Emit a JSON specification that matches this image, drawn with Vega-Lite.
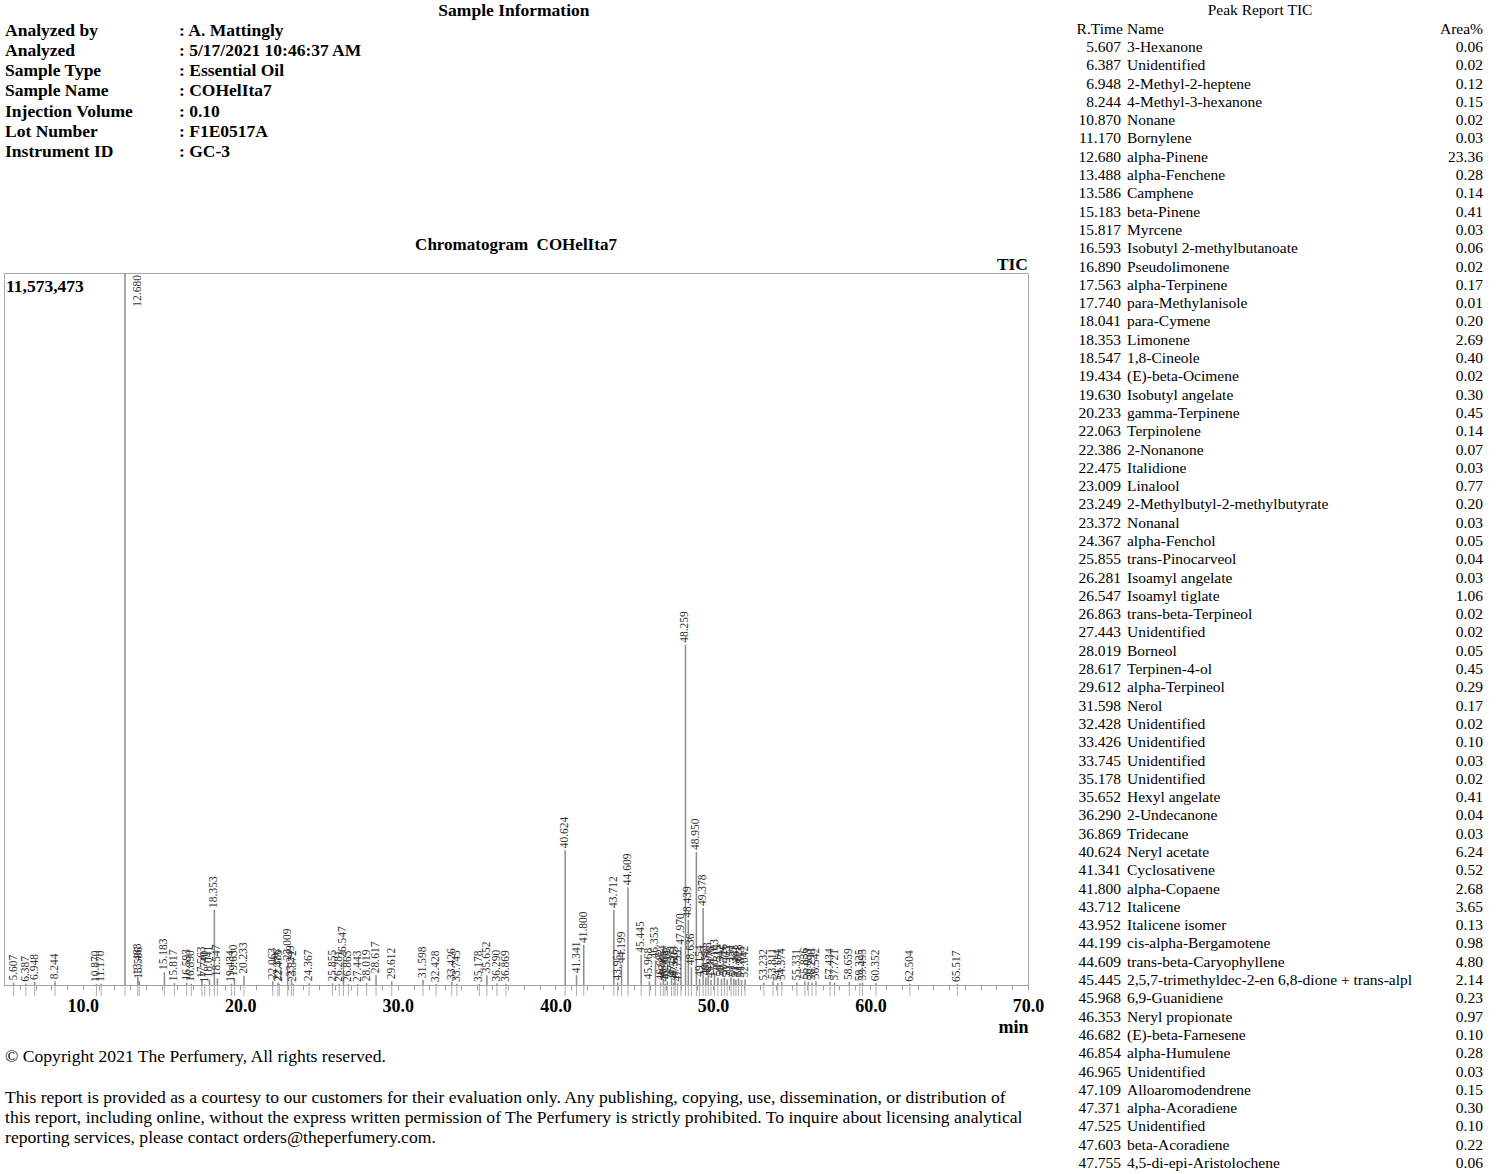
{
  "$schema": "https://vega.github.io/schema/vega-lite/v6.json",
  "padding": {"left": 3, "top": 0, "right": 0, "bottom": 0},
  "background": "white",
  "config": {"font": "Liberation Serif", "view": {"stroke": null}},
  "spacing": 0,
  "datasets": {
    "peaks": [
      {"rt": 5.607, "height": 40000}, {"rt": 6.387, "height": 20000}, {"rt": 6.948, "height": 50000}, {"rt": 8.244, "height": 60000},
      {"rt": 10.870, "height": 15000}, {"rt": 11.170, "height": 20000}, {"rt": 12.680, "height": 11573473}, {"rt": 13.488, "height": 130000},
      {"rt": 13.586, "height": 70000}, {"rt": 15.183, "height": 210000}, {"rt": 15.817, "height": 30000}, {"rt": 16.593, "height": 40000},
      {"rt": 16.890, "height": 20000}, {"rt": 17.563, "height": 80000}, {"rt": 17.740, "height": 10000}, {"rt": 18.041, "height": 90000},
      {"rt": 18.353, "height": 1220000}, {"rt": 18.547, "height": 110000}, {"rt": 19.434, "height": 20000}, {"rt": 19.630, "height": 110000},
      {"rt": 20.233, "height": 150000}, {"rt": 22.063, "height": 60000}, {"rt": 22.386, "height": 40000}, {"rt": 22.475, "height": 20000},
      {"rt": 23.009, "height": 370000}, {"rt": 23.249, "height": 100000}, {"rt": 23.372, "height": 20000}, {"rt": 24.367, "height": 30000},
      {"rt": 25.855, "height": 25000}, {"rt": 26.281, "height": 20000}, {"rt": 26.547, "height": 410000}, {"rt": 26.863, "height": 15000},
      {"rt": 27.443, "height": 15000}, {"rt": 28.019, "height": 30000}, {"rt": 28.617, "height": 160000}, {"rt": 29.612, "height": 60000},
      {"rt": 31.598, "height": 80000}, {"rt": 32.428, "height": 15000}, {"rt": 33.426, "height": 50000}, {"rt": 33.745, "height": 20000},
      {"rt": 35.178, "height": 15000}, {"rt": 35.652, "height": 160000}, {"rt": 36.290, "height": 25000}, {"rt": 36.869, "height": 20000},
      {"rt": 40.624, "height": 2190000}, {"rt": 41.341, "height": 160000}, {"rt": 41.800, "height": 650000}, {"rt": 43.712, "height": 1220000},
      {"rt": 43.952, "height": 40000}, {"rt": 44.199, "height": 325000}, {"rt": 44.609, "height": 1590000}, {"rt": 45.445, "height": 490000},
      {"rt": 45.968, "height": 60000}, {"rt": 46.353, "height": 400000}, {"rt": 46.682, "height": 40000}, {"rt": 46.854, "height": 100000},
      {"rt": 46.965, "height": 20000}, {"rt": 47.109, "height": 60000}, {"rt": 47.371, "height": 110000}, {"rt": 47.525, "height": 40000},
      {"rt": 47.603, "height": 80000}, {"rt": 47.755, "height": 25000}, {"rt": 47.970, "height": 620000}, {"rt": 48.259, "height": 5530000},
      {"rt": 48.439, "height": 1060000}, {"rt": 48.636, "height": 290000}, {"rt": 48.950, "height": 2160000}, {"rt": 49.154, "height": 100000},
      {"rt": 49.378, "height": 1250000}, {"rt": 49.551, "height": 120000}, {"rt": 49.703, "height": 150000}, {"rt": 49.876, "height": 80000},
      {"rt": 50.103, "height": 200000}, {"rt": 50.315, "height": 120000}, {"rt": 50.542, "height": 100000}, {"rt": 50.726, "height": 120000},
      {"rt": 50.903, "height": 90000}, {"rt": 51.151, "height": 120000}, {"rt": 51.327, "height": 100000}, {"rt": 51.461, "height": 90000},
      {"rt": 51.628, "height": 110000}, {"rt": 51.813, "height": 80000}, {"rt": 52.042, "height": 90000}, {"rt": 53.232, "height": 40000},
      {"rt": 53.811, "height": 60000}, {"rt": 54.114, "height": 30000}, {"rt": 54.374, "height": 50000}, {"rt": 55.331, "height": 40000},
      {"rt": 55.836, "height": 60000}, {"rt": 56.053, "height": 50000}, {"rt": 56.290, "height": 40000}, {"rt": 56.542, "height": 60000},
      {"rt": 57.434, "height": 50000}, {"rt": 57.721, "height": 40000}, {"rt": 58.659, "height": 50000}, {"rt": 59.325, "height": 30000},
      {"rt": 59.495, "height": 40000}, {"rt": 60.352, "height": 30000}, {"rt": 62.504, "height": 20000}, {"rt": 65.517, "height": 15000}
    ],
    "report": [
      {"peak": 1, "rt": 5.607, "name": "3-Hexanone", "area": 0.06},
      {"peak": 2, "rt": 6.387, "name": "Unidentified", "area": 0.02},
      {"peak": 3, "rt": 6.948, "name": "2-Methyl-2-heptene", "area": 0.12},
      {"peak": 4, "rt": 8.244, "name": "4-Methyl-3-hexanone", "area": 0.15},
      {"peak": 5, "rt": 10.870, "name": "Nonane", "area": 0.02},
      {"peak": 6, "rt": 11.170, "name": "Bornylene", "area": 0.03},
      {"peak": 7, "rt": 12.680, "name": "alpha-Pinene", "area": 23.36},
      {"peak": 8, "rt": 13.488, "name": "alpha-Fenchene", "area": 0.28},
      {"peak": 9, "rt": 13.586, "name": "Camphene", "area": 0.14},
      {"peak": 10, "rt": 15.183, "name": "beta-Pinene", "area": 0.41},
      {"peak": 11, "rt": 15.817, "name": "Myrcene", "area": 0.03},
      {"peak": 12, "rt": 16.593, "name": "Isobutyl 2-methylbutanoate", "area": 0.06},
      {"peak": 13, "rt": 16.890, "name": "Pseudolimonene", "area": 0.02},
      {"peak": 14, "rt": 17.563, "name": "alpha-Terpinene", "area": 0.17},
      {"peak": 15, "rt": 17.740, "name": "para-Methylanisole", "area": 0.01},
      {"peak": 16, "rt": 18.041, "name": "para-Cymene", "area": 0.20},
      {"peak": 17, "rt": 18.353, "name": "Limonene", "area": 2.69},
      {"peak": 18, "rt": 18.547, "name": "1,8-Cineole", "area": 0.40},
      {"peak": 19, "rt": 19.434, "name": "(E)-beta-Ocimene", "area": 0.02},
      {"peak": 20, "rt": 19.630, "name": "Isobutyl angelate", "area": 0.30},
      {"peak": 21, "rt": 20.233, "name": "gamma-Terpinene", "area": 0.45},
      {"peak": 22, "rt": 22.063, "name": "Terpinolene", "area": 0.14},
      {"peak": 23, "rt": 22.386, "name": "2-Nonanone", "area": 0.07},
      {"peak": 24, "rt": 22.475, "name": "Italidione", "area": 0.03},
      {"peak": 25, "rt": 23.009, "name": "Linalool", "area": 0.77},
      {"peak": 26, "rt": 23.249, "name": "2-Methylbutyl-2-methylbutyrate", "area": 0.20},
      {"peak": 27, "rt": 23.372, "name": "Nonanal", "area": 0.03},
      {"peak": 28, "rt": 24.367, "name": "alpha-Fenchol", "area": 0.05},
      {"peak": 29, "rt": 25.855, "name": "trans-Pinocarveol", "area": 0.04},
      {"peak": 30, "rt": 26.281, "name": "Isoamyl angelate", "area": 0.03},
      {"peak": 31, "rt": 26.547, "name": "Isoamyl tiglate", "area": 1.06},
      {"peak": 32, "rt": 26.863, "name": "trans-beta-Terpineol", "area": 0.02},
      {"peak": 33, "rt": 27.443, "name": "Unidentified", "area": 0.02},
      {"peak": 34, "rt": 28.019, "name": "Borneol", "area": 0.05},
      {"peak": 35, "rt": 28.617, "name": "Terpinen-4-ol", "area": 0.45},
      {"peak": 36, "rt": 29.612, "name": "alpha-Terpineol", "area": 0.29},
      {"peak": 37, "rt": 31.598, "name": "Nerol", "area": 0.17},
      {"peak": 38, "rt": 32.428, "name": "Unidentified", "area": 0.02},
      {"peak": 39, "rt": 33.426, "name": "Unidentified", "area": 0.10},
      {"peak": 40, "rt": 33.745, "name": "Unidentified", "area": 0.03},
      {"peak": 41, "rt": 35.178, "name": "Unidentified", "area": 0.02},
      {"peak": 42, "rt": 35.652, "name": "Hexyl angelate", "area": 0.41},
      {"peak": 43, "rt": 36.290, "name": "2-Undecanone", "area": 0.04},
      {"peak": 44, "rt": 36.869, "name": "Tridecane", "area": 0.03},
      {"peak": 45, "rt": 40.624, "name": "Neryl acetate", "area": 6.24},
      {"peak": 46, "rt": 41.341, "name": "Cyclosativene", "area": 0.52},
      {"peak": 47, "rt": 41.800, "name": "alpha-Copaene", "area": 2.68},
      {"peak": 48, "rt": 43.712, "name": "Italicene", "area": 3.65},
      {"peak": 49, "rt": 43.952, "name": "Italicene isomer", "area": 0.13},
      {"peak": 50, "rt": 44.199, "name": "cis-alpha-Bergamotene", "area": 0.98},
      {"peak": 51, "rt": 44.609, "name": "trans-beta-Caryophyllene", "area": 4.80},
      {"peak": 52, "rt": 45.445, "name": "2,5,7-trimethyldec-2-en 6,8-dione + trans-alpl", "area": 2.14},
      {"peak": 53, "rt": 45.968, "name": "6,9-Guanidiene", "area": 0.23},
      {"peak": 54, "rt": 46.353, "name": "Neryl propionate", "area": 0.97},
      {"peak": 55, "rt": 46.682, "name": "(E)-beta-Farnesene", "area": 0.10},
      {"peak": 56, "rt": 46.854, "name": "alpha-Humulene", "area": 0.28},
      {"peak": 57, "rt": 46.965, "name": "Unidentified", "area": 0.03},
      {"peak": 58, "rt": 47.109, "name": "Alloaromodendrene", "area": 0.15},
      {"peak": 59, "rt": 47.371, "name": "alpha-Acoradiene", "area": 0.30},
      {"peak": 60, "rt": 47.525, "name": "Unidentified", "area": 0.10},
      {"peak": 61, "rt": 47.603, "name": "beta-Acoradiene", "area": 0.22},
      {"peak": 62, "rt": 47.755, "name": "4,5-di-epi-Aristolochene", "area": 0.06}
    ]
  },
  "hconcat": [
    {
      "bounds": "flush",
      "spacing": 0,
      "vconcat": [
        {
          "width": 1024,
          "height": 273,
          "data": {"values": [
            {"k": 1, "label": "Analyzed by", "value": "A. Mattingly"},
            {"k": 2, "label": "Analyzed", "value": "5/17/2021 10:46:37 AM"},
            {"k": 3, "label": "Sample Type", "value": "Essential Oil"},
            {"k": 4, "label": "Sample Name", "value": "COHelIta7"},
            {"k": 5, "label": "Injection Volume", "value": "0.10"},
            {"k": 6, "label": "Lot Number", "value": "F1E0517A"},
            {"k": 7, "label": "Instrument ID", "value": "GC-3"}
          ]},
          "transform": [{"calculate": "': ' + datum.value", "as": "shown"}],
          "layer": [
            {
              "mark": {"type": "text", "align": "left", "baseline": "middle", "fontWeight": "bold", "fontSize": 17.5, "color": "black"},
              "encoding": {
                "x": {"datum": 0.001, "type": "quantitative", "scale": {"domain": [0, 1]}, "axis": null},
                "y": {"field": "k", "type": "quantitative", "scale": {"domain": [-0.535, 13.0], "reverse": true, "nice": false, "zero": false}, "axis": null},
                "text": {"field": "label"}
              }
            },
            {
              "mark": {"type": "text", "align": "left", "baseline": "middle", "fontWeight": "bold", "fontSize": 17.5, "color": "black"},
              "encoding": {
                "x": {"datum": 0.1709, "type": "quantitative", "scale": {"domain": [0, 1]}, "axis": null},
                "y": {"field": "k", "type": "quantitative", "axis": null},
                "text": {"field": "shown"}
              }
            },
            {
              "data": {"values": [{"k": 0, "t": "Sample Information"}]},
              "mark": {"type": "text", "align": "center", "baseline": "middle", "fontWeight": "bold", "fontSize": 17.5, "color": "black"},
              "encoding": {
                "x": {"datum": 0.498, "type": "quantitative", "axis": null},
                "y": {"field": "k", "type": "quantitative", "axis": null},
                "text": {"field": "t"}
              }
            }
          ]
        },
        {
          "width": 1024,
          "height": 712,
          "view": {"stroke": "#a8a8a8", "strokeWidth": 1},
          "data": {"name": "peaks"},
          "resolve": {"axis": {"x": "independent"}},
          "layer": [
            {
              "mark": {"type": "rule", "color": "#8c8c8c", "strokeWidth": 1.5},
              "encoding": {
                "x": {"field": "rt", "type": "quantitative", "scale": {"domain": [5, 70], "nice": false, "zero": false},
                  "axis": {
                    "orient": "bottom",
                    "values": [10, 20, 30, 40, 50, 60, 70],
                    "format": ".1f",
                    "labelFont": "Liberation Serif", "labelFontSize": 18, "labelFontWeight": "bold", "labelColor": "black",
                    "labelPadding": 7, "tickSize": 5, "tickColor": "#a0a0a0", "domainColor": "#a0a0a0", "grid": false,
                    "labelOverlap": false, "labelFlush": false,
                    "title": "min", "titleFont": "Liberation Serif", "titleFontSize": 18, "titleFontWeight": "bold", "titleColor": "black",
                    "titleAnchor": "end", "titleAlign": "right", "titlePadding": 3
                  }},
                "y": {"field": "height", "type": "quantitative", "scale": {"domain": [0, 11573473], "nice": false, "zero": true}, "axis": null},
                "y2": {"datum": 0}
              }
            },
            {
              "mark": {"type": "rule", "color": "#b0b0b0", "strokeWidth": 1},
              "encoding": {
                "x": {"field": "rt", "type": "quantitative",
                  "axis": {
                    "orient": "bottom",
                    "values": [6,7,8,9,11,12,13,14,15,16,17,18,19,21,22,23,24,25,26,27,28,29,31,32,33,34,35,36,37,38,39,41,42,43,44,45,46,47,48,49,51,52,53,54,55,56,57,58,59,61,62,63,64,65,66,67,68,69],
                    "labels": false, "domain": false, "grid": false, "tickSize": 5, "tickColor": "#a0a0a0", "title": null
                  }},
                "y": {"datum": 0},
                "y2": {"datum": -180000}
              }
            },
            {
              "transform": [{"filter": "datum.height < 11000000"}],
              "mark": {"type": "text", "angle": 270, "align": "left", "baseline": "middle", "dx": 2, "fontSize": 11.5, "color": "#333333"},
              "encoding": {
                "x": {"field": "rt", "type": "quantitative", "axis": null},
                "y": {"field": "height", "type": "quantitative"},
                "text": {"field": "rt", "type": "quantitative", "format": ".3f"}
              }
            },
            {
              "transform": [{"filter": "datum.height >= 11000000"}],
              "mark": {"type": "text", "angle": 270, "align": "right", "baseline": "middle", "dx": -2, "dy": 13, "fontSize": 11.5, "color": "#333333"},
              "encoding": {
                "x": {"field": "rt", "type": "quantitative", "axis": null},
                "y": {"field": "height", "type": "quantitative"},
                "text": {"field": "rt", "type": "quantitative", "format": ".3f"}
              }
            },
            {
              "data": {"values": [{"x": 5, "y": 11573473, "t": "11,573,473"}]},
              "mark": {"type": "text", "align": "left", "baseline": "top", "dx": 2, "dy": 5, "fontWeight": "bold", "fontSize": 17.5, "color": "black"},
              "encoding": {
                "x": {"field": "x", "type": "quantitative", "axis": null},
                "y": {"field": "y", "type": "quantitative"},
                "text": {"field": "t"}
              }
            },
            {
              "data": {"values": [{"x": 70, "y": 11573473, "t": "TIC"}]},
              "mark": {"type": "text", "align": "right", "baseline": "alphabetic", "dy": -3, "fontWeight": "bold", "fontSize": 17.5, "color": "black"},
              "encoding": {
                "x": {"field": "x", "type": "quantitative", "axis": null},
                "y": {"field": "y", "type": "quantitative"},
                "text": {"field": "t"}
              }
            },
            {
              "data": {"values": [{"x": 37.5, "y": 11573473, "t": "Chromatogram\u00a0 COHelIta7"}]},
              "mark": {"type": "text", "align": "center", "baseline": "alphabetic", "dy": -23, "fontWeight": "bold", "fontSize": 17, "color": "black"},
              "encoding": {
                "x": {"field": "x", "type": "quantitative", "axis": null},
                "y": {"field": "y", "type": "quantitative"},
                "text": {"field": "t"}
              }
            }
          ]
        },
        {
          "width": 1024,
          "height": 189,
          "data": {"values": [
            {"line": 0, "t": "© Copyright 2021 The Perfumery, All rights reserved."},
            {"line": 2, "t": "This report is provided as a courtesy to our customers for their evaluation only. Any publishing, copying, use, dissemination, or distribution of"},
            {"line": 3, "t": "this report, including online, without the express written permission of The Perfumery is strictly prohibited. To inquire about licensing analytical"},
            {"line": 4, "t": "reporting services, please contact orders@theperfumery.com."}
          ]},
          "mark": {"type": "text", "align": "left", "baseline": "middle", "fontSize": 17.6, "color": "black"},
          "encoding": {
            "x": {"datum": 0.001, "type": "quantitative", "scale": {"domain": [0, 1]}, "axis": null},
            "y": {"field": "line", "type": "quantitative", "scale": {"domain": [-3.547, 5.764], "reverse": true, "nice": false, "zero": false}, "axis": null},
            "text": {"field": "t"}
          }
        }
      ]
    },
    {
      "width": 450,
      "height": 1174,
      "data": {"name": "report"},
      "layer": [
        {
          "mark": {"type": "text", "align": "right", "baseline": "middle", "fontSize": 15.5, "color": "black"},
          "encoding": {
            "x": {"datum": 0.1689, "type": "quantitative", "scale": {"domain": [0, 1]}, "axis": null},
            "y": {"field": "peak", "type": "quantitative", "scale": {"domain": [-1.569, 62.6], "reverse": true, "nice": false, "zero": false}, "axis": null},
            "text": {"field": "rt", "type": "quantitative", "format": ".3f"}
          }
        },
        {
          "mark": {"type": "text", "align": "left", "baseline": "middle", "fontSize": 15.5, "color": "black"},
          "encoding": {
            "x": {"datum": 0.1822, "type": "quantitative", "axis": null},
            "y": {"field": "peak", "type": "quantitative", "axis": null},
            "text": {"field": "name"}
          }
        },
        {
          "mark": {"type": "text", "align": "right", "baseline": "middle", "fontSize": 15.5, "color": "black"},
          "encoding": {
            "x": {"datum": 0.9733, "type": "quantitative", "axis": null},
            "y": {"field": "peak", "type": "quantitative", "axis": null},
            "text": {"field": "area", "type": "quantitative", "format": ".2f"}
          }
        },
        {
          "data": {"values": [
            {"peak": 0, "pos": 0.1733, "t": "R.Time", "a": "right"},
            {"peak": 0, "pos": 0.1822, "t": "Name", "a": "left"},
            {"peak": 0, "pos": 0.9733, "t": "Area%", "a": "right"}
          ]},
          "mark": {"type": "text", "baseline": "middle", "fontSize": 15.5, "color": "black", "align": {"expr": "datum.a"}},
          "encoding": {
            "x": {"field": "pos", "type": "quantitative", "axis": null},
            "y": {"field": "peak", "type": "quantitative", "axis": null},
            "text": {"field": "t"}
          }
        },
        {
          "data": {"values": [{"peak": -1, "pos": 0.4778, "t": "Peak Report TIC"}]},
          "mark": {"type": "text", "align": "center", "baseline": "middle", "fontSize": 15.5, "color": "black"},
          "encoding": {
            "x": {"field": "pos", "type": "quantitative", "axis": null},
            "y": {"field": "peak", "type": "quantitative", "axis": null},
            "text": {"field": "t"}
          }
        }
      ]
    }
  ]
}
